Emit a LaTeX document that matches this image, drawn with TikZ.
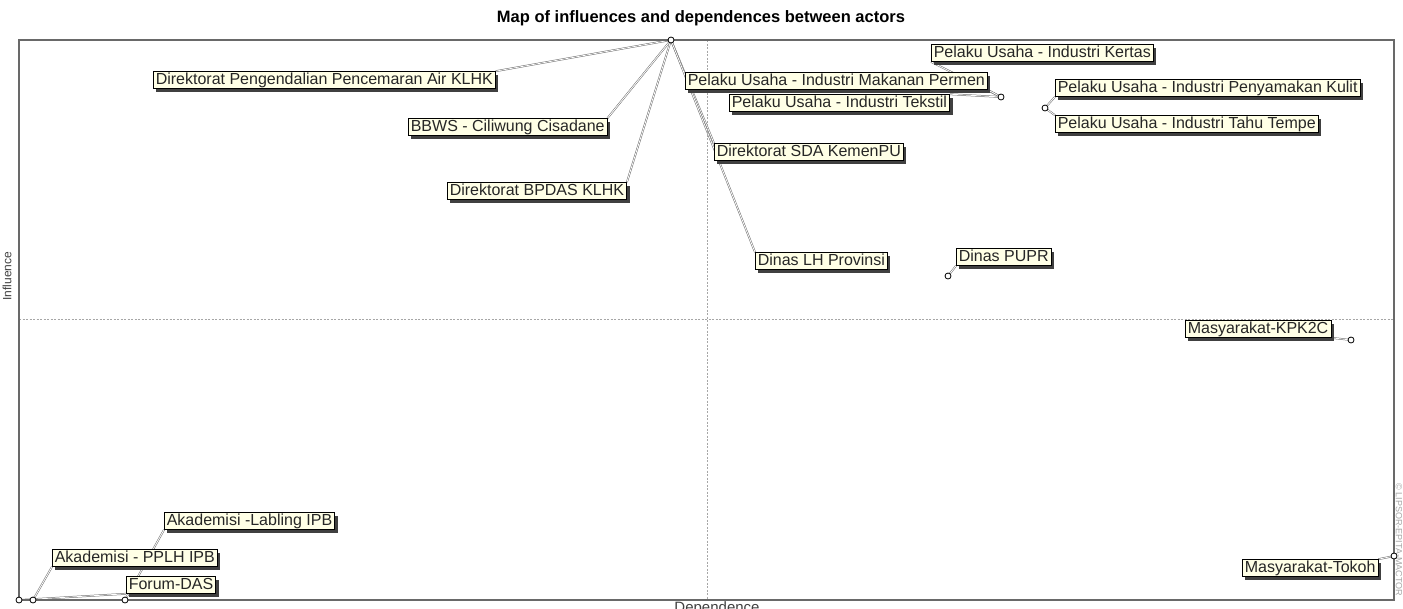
\documentclass[tikz,border=0pt]{standalone}
\usepackage{fontspec}
\setmainfont{Liberation Sans}
\usetikzlibrary{shadows, backgrounds}
\definecolor{tipfill}{RGB}{255, 255, 230}
\definecolor{framegray}{RGB}{105, 105, 105}

\begin{document}
\begin{tikzpicture}[x=1pt, y=-1pt,
  actor/.style={draw=black, line width=0.6pt, fill=tipfill, anchor=west,
    inner xsep=2.5pt, inner ysep=0pt, minimum height=17pt,
    text height=11.6pt, text depth=3.4pt, text=black!85,
    font=\fontsize{16}{18}\selectfont,
    drop shadow={shadow xshift=3pt, shadow yshift=-3pt, fill=black!75, opacity=1}},
  link/.style={draw=gray!85!black, line width=0.5pt, double=white, double distance=0.8pt},
  pt/.style={draw=black, line width=0.8pt, fill=white},
  quadrant/.style={gray!70, line width=0.8pt, dash pattern=on 2pt off 1.5pt}]
  \useasboundingbox (0,0) rectangle (1403,608);

  % Title and axis names
  \node[font=\bfseries\fontsize{16.5}{19}\selectfont] (title) at (701,18)
    {Map of influences and dependences between actors};
  \node[rotate=90, gray!50!black, font=\fontsize{12}{14}\selectfont] (ylab) at (7,276) {Influence};
  \node[anchor=north, inner sep=0pt, gray!50!black, font=\fontsize{15}{17}\selectfont] (xlab)
    at (717,601) {Dependence};
  \node[rotate=-90, gray!70, font=\fontsize{9}{11}\selectfont] (copy) at (1399,540)
    {\textcopyright{} LIPSOR-EPITA-MACTOR};

  % Quadrant lines and frame
  \draw[quadrant] (707,40) -- (707,600);
  \draw[quadrant] (19,319) -- (1394,319);
  \draw[framegray, line width=1.5pt] (19,40) rectangle (1394,600);

  % Actor positions
  \coordinate (pTop) at (671,40);
  \coordinate (pPelaku) at (1001,97);
  \coordinate (pKulit) at (1045,108);
  \coordinate (pPupr) at (948,276);
  \coordinate (pKpk) at (1351,340);
  \coordinate (pTokoh) at (1394,556);
  \coordinate (pA) at (19,600);
  \coordinate (pB) at (33,600);
  \coordinate (pC) at (125,600);

  % Labels, upper left
  \node[actor] (dppa) at (153,80) {Direktorat Pengendalian Pencemaran Air KLHK};
  \node[actor] (bbws) at (408,127) {BBWS - Ciliwung Cisadane};
  \node[actor] (bpdas) at (447,191) {Direktorat BPDAS KLHK};

  % Labels, upper right
  \node[actor] (sda) at (714,152) {Direktorat SDA KemenPU};
  \node[actor] (dlh) at (755,261) {Dinas LH Provinsi};
  \node[actor] (kertas) at (931,53) {Pelaku Usaha - Industri Kertas};
  \node[actor] (permen) at (685,81) {Pelaku Usaha - Industri Makanan Permen};
  \node[actor] (tekstil) at (729,103) {Pelaku Usaha - Industri Tekstil};
  \node[actor] (kulit) at (1055,88) {Pelaku Usaha - Industri Penyamakan Kulit};
  \node[actor] (tahu) at (1055,124) {Pelaku Usaha - Industri Tahu Tempe};
  \node[actor] (pupr) at (956,257) {Dinas PUPR};

  % Labels, lower half
  \node[actor] (kpk) at (1185,329) {Masyarakat-KPK2C};
  \node[actor] (tokoh) at (1242,568) {Masyarakat-Tokoh};
  \node[actor] (labling) at (164,521) {Akademisi -Labling IPB};
  \node[actor] (pplh) at (52,558) {Akademisi - PPLH IPB};
  \node[actor] (forum) at (126,585) {Forum-DAS};

  % Leader lines, kept under the labels
  \begin{scope}[on background layer]
    \draw[link] (pTop) -- (dppa.north east);
    \draw[link] (pTop) -- (bbws.north east);
    \draw[link] (pTop) -- (bpdas.north east);
    \draw[link] (pTop) -- (sda.north west);
    \draw[link] (pTop) -- (dlh.north west);
    \draw[link] (pPelaku) -- (kertas.south west);
    \draw[link] (pPelaku) -- (permen.south east);
    \draw[link] (pPelaku) -- (tekstil.north east);
    \draw[link] (pKulit) -- (kulit.south west);
    \draw[link] (pKulit) -- (tahu.north west);
    \draw[link] (pPupr) -- (pupr.south west);
    \draw[link] (pKpk) -- (kpk.south east);
    \draw[link] (pTokoh) -- (tokoh.north east);
    \draw[link] (pA) -- (forum.south west);
    \draw[link] (pB) -- (pplh.south west);
    \draw[link] (pC) -- (labling.south west);
  \end{scope}

  % Point markers
  \foreach \p in {pTop, pPelaku, pKulit, pPupr, pKpk, pTokoh, pA, pB, pC}
    \draw[pt] (\p) circle[radius=3pt];
\end{tikzpicture}
\end{document}
